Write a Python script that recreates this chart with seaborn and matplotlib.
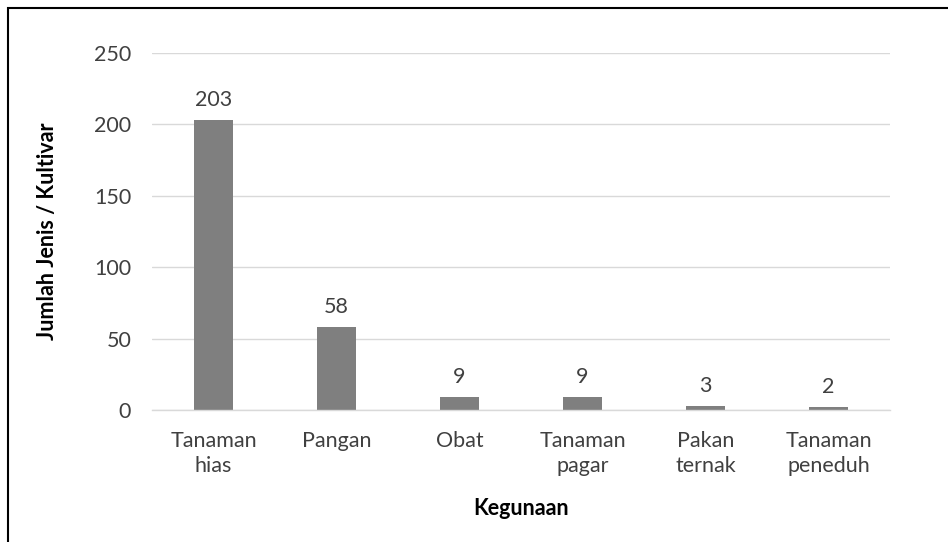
import matplotlib
matplotlib.use("Agg")
import matplotlib.pyplot as plt
import seaborn as sns
import pandas as pd
from matplotlib.patches import Rectangle

categories = ["Tanaman\nhias", "Pangan", "Obat", "Tanaman\npagar", "Pakan\nternak", "Tanaman\npeneduh"]
values = [203, 58, 9, 9, 3, 2]
yticks = [0, 50, 100, 150, 200, 250]

sns.set_theme(style="white")
plt.rcParams['font.family'] = ['Lato', 'DejaVu Sans']

df = pd.DataFrame({"cat": categories, "val": values})

fig = plt.figure(figsize=(9.48, 5.42), dpi=100)
ax = fig.add_axes([152/948, 1 - 410/542, (890-152)/948, (410-53)/542])

sns.barplot(data=df, x="cat", y="val", color="#7f7f7f", saturation=1, width=0.31, ax=ax)
for p in ax.patches:
    p.set_edgecolor("none")

fs = 15.5
ax.set_ylim(0, 250)
ax.set_yticks(yticks)
ax.set_yticklabels([str(t) for t in yticks], fontsize=fs, color="#404040")
ax.set_xticks(range(len(categories)))
ax.set_xticklabels(categories, fontsize=fs, color="#404040", linespacing=1.3)
ax.tick_params(axis="x", length=0, pad=15)
ax.tick_params(axis="y", length=0, pad=15)
ax.yaxis.grid(True, color="#d9d9d9", linewidth=1)
ax.set_axisbelow(True)
for s in ["top", "right", "left"]:
    ax.spines[s].set_visible(False)
ax.spines["bottom"].set_color("#d9d9d9")
ax.spines["bottom"].set_linewidth(1)

for i, v in enumerate(values):
    ax.annotate(str(v), (i, v), xytext=(0, 7), textcoords="offset points",
                ha="center", va="bottom", fontsize=fs, color="#404040")

ax.set_xlabel("Kegunaan", fontsize=fs, fontweight="bold", color="black", labelpad=16)
ax.set_ylabel("Jumlah Jenis / Kultivar", fontsize=fs, fontweight="bold", color="black", labelpad=26)

fig.patches.append(Rectangle((8/948, -0.1), 1.1, 1 - 8/542 + 0.1, transform=fig.transFigure,
                             fill=False, edgecolor="black", linewidth=1.5))

fig.savefig("out.png", dpi=100)
